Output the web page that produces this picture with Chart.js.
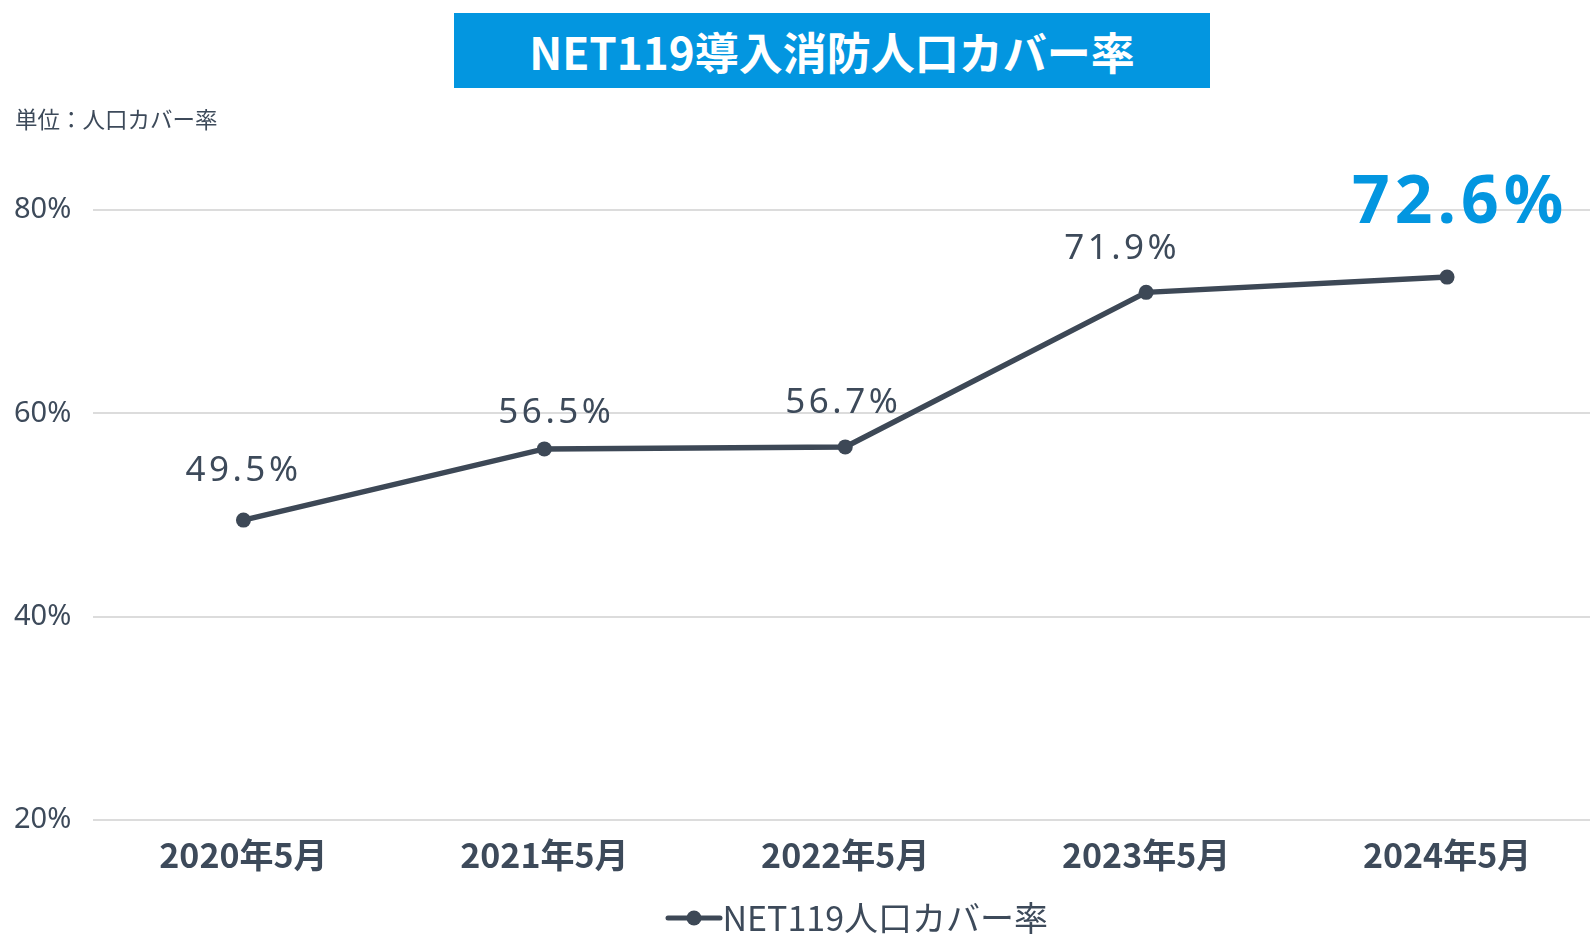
<!DOCTYPE html>
<html lang="ja">
<head>
<meta charset="utf-8">
<script src="https://cdn.jsdelivr.net/npm/chart.js@4.4.1/dist/chart.umd.min.js"></script>
<style>
  html, body { margin: 0; padding: 0; background: #fff; overflow: hidden; width: 1590px; height: 934px; }
  #wrap { position: absolute; left: 0; top: 0; width: 1605px; height: 945px; }
  #title {
    position: absolute; left: 454px; top: 13px; width: 756px; height: 75px;
    background: #0396e0; color: #fff; font: bold 44px "Noto Sans CJK JP", "Noto Sans", sans-serif;
    display: flex; align-items: center; justify-content: center; z-index: 2;
  }
  #unit {
    position: absolute; left: 15px; top: 102px; color: #3d4a5a;
    font: 22.5px "Noto Sans CJK JP", "Noto Sans", sans-serif; z-index: 2;
  }
</style>
</head>
<body>
<div id="title">NET119導入消防人口カバー率</div>
<div id="unit">単位：人口カバー率</div>
<div id="wrap"><canvas id="chartCoverage"></canvas></div>
<script>
// === data ===
const categories = ["2020年5月", "2021年5月", "2022年5月", "2023年5月", "2024年5月"];
const coverage = [49.5, 56.5, 56.7, 71.9, 73.4];          // plotted position
const coverageLabels = ["49.5%", "56.5%", "56.7%", "71.9%", "72.6%"]; // printed value
const yTicks = [20, 40, 60, 80];
const seriesName = "NET119人口カバー率";

const slate = "#3d4856";
const textColor = "#3d4a5a";

// legend marker: line with dot (drawn right of centre so it sits close to the text)
function legendMarker() {
  const c = document.createElement("canvas");
  c.width = 100; c.height = 18;
  const g = c.getContext("2d");
  g.strokeStyle = slate; g.lineWidth = 5; g.lineCap = "round";
  g.beginPath(); g.moveTo(44, 9); g.lineTo(96, 9); g.stroke();
  g.fillStyle = slate;
  g.beginPath(); g.arc(70, 9, 7.5, 0, Math.PI * 2); g.fill();
  return c;
}

// value labels above points
const valueLabels = {
  id: "valueLabels",
  afterDatasetsDraw(chart, args, opts) {
    const ctx = chart.ctx;
    const meta = chart.getDatasetMeta(0);
    const last = meta.data.length - 1;
    ctx.save();
    ctx.textAlign = "center";
    ctx.textBaseline = "middle";
    meta.data.forEach((pt, i) => {
      const off = opts.offsets[i];
      if (i === last) {
        ctx.font = "bold 66px 'Noto Sans', sans-serif";
        ctx.letterSpacing = "5px";
        ctx.fillStyle = "#0396e0";
      } else {
        ctx.font = "35px 'Noto Sans', sans-serif";
        ctx.letterSpacing = "3.5px";
        ctx.fillStyle = textColor;
      }
      ctx.fillText(coverageLabels[i], pt.x + off[0], pt.y + off[1]);
    });
    ctx.letterSpacing = "0px";
    ctx.restore();
  }
};

document.addEventListener("DOMContentLoaded", () => {
  new Chart(document.getElementById("chartCoverage"), {
    type: "line",
    data: {
      labels: categories,
      datasets: [{
        label: seriesName,
        data: coverage,
        borderColor: slate,
        backgroundColor: slate,
        borderWidth: 5.5,
        pointRadius: 7.5,
        pointBackgroundColor: slate,
        pointBorderWidth: 0,
        tension: 0
      }]
    },
    options: {
      responsive: true,
      maintainAspectRatio: false,
      animation: false,
      layout: { padding: { top: 210, left: 14, right: 0, bottom: 0 } },
      scales: {
        x: {
          offset: true,
          grid: { display: false },
          border: { display: false },
          ticks: { color: textColor, padding: 7, font: { family: "'Noto Sans CJK JP', sans-serif", size: 34, weight: "bold" } },
          afterFit: (axis) => { axis.height = 60; }
        },
        y: {
          min: 20,
          max: 80,
          afterBuildTicks: (axis) => { axis.ticks = yTicks.map(v => ({ value: v })); },
          afterFit: (axis) => { axis.width = 79; },
          grid: { color: "#dcdcdc", lineWidth: 2, drawTicks: false },
          border: { display: false },
          ticks: {
            color: textColor, padding: 22, crossAlign: "far",
            font: { family: "'Noto Sans', sans-serif", size: 29 },
            callback: v => v + "%"
          }
        }
      },
      plugins: {
        tooltip: { enabled: false },
        legend: {
          position: "bottom",
          fullSize: false,
          labels: {
            color: textColor,
            padding: 21,
            usePointStyle: true,
            pointStyleWidth: 63,
            font: { family: "'Noto Sans CJK JP', sans-serif", size: 34 },
            generateLabels: (chart) => [{
              text: seriesName,
              fontColor: textColor,
              pointStyle: legendMarker(),
              datasetIndex: 0,
              lineWidth: 0,
              strokeStyle: "transparent",
              fillStyle: "transparent"
            }]
          }
        },
        valueLabels: {
          offsets: [[0, -49], [12, -36], [-2, -44], [-24, -43], [13, -73]]
        }
      }
    },
    plugins: [valueLabels]
  });
});
</script>
</body>
</html>
